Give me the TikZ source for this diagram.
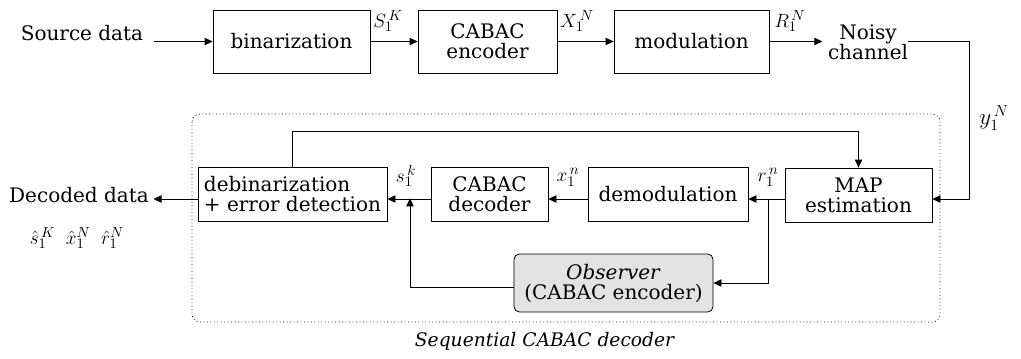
\documentclass[tikz,border=0pt]{standalone}
\usepackage{fontspec}
\setmainfont{DejaVu Serif}
\usepackage{tikz}
\usetikzlibrary{arrows.meta}

\begin{document}
\begin{tikzpicture}[x=0.75pt,y=0.75pt,yscale=-1,xscale=1,
  font=\fontsize{15}{15}\selectfont,
  blk/.style={draw, line width=0.6pt, inner sep=0pt, align=center},
  arr/.style={line width=0.6pt, -{Triangle[length=6pt,width=5.5pt]}},
  lnk/.style={line width=0.6pt}]
\useasboundingbox (0,0) rectangle (1021,358);

%Shape: Rounded Rectangle [dotted frame of the decoder]
\draw [dotted, line width=0.6pt, rounded corners=6pt] (192,114) rectangle (940,322);

%Shape: Rectangle [binarization]
\draw (291.5,41.5) node [blk, minimum width=117.75pt, minimum height=47.25pt] (bin) {binarization};
%Shape: Rectangle [CABAC encoder]
\draw (487.5,41.5) node [blk, minimum width=104.25pt, minimum height=47.25pt] (enc) {CABAC\\encoder};
%Shape: Rectangle [modulation]
\draw (691.5,41.5) node [blk, minimum width=116.25pt, minimum height=47.25pt] (mod) {modulation};
%Shape: Rectangle [debinarization]
\draw (292.5,194) node [blk, inner xsep=2pt, minimum width=141.75pt, minimum height=40.5pt, align=left] (debin) {debinarization\\+ error detection};
%Shape: Rectangle [CABAC decoder]
\draw (489.5,194) node [blk, minimum width=87.75pt, minimum height=40.5pt] (dec) {CABAC\\decoder};
%Shape: Rectangle [demodulation]
\draw (668,194) node [blk, minimum width=120pt, minimum height=40.5pt] (demod) {demodulation};
%Shape: Rectangle [MAP estimation]
\draw (858.5,195) node [blk, minimum width=110.25pt, minimum height=40.5pt] (map) {MAP\\estimation};
%Shape: Rounded Rectangle [observer]
\draw (613.5,283) node [blk, rounded corners=4pt, fill=black!11, minimum width=149.25pt, minimum height=43.5pt] (obs) {\textit{Observer}\\(CABAC encoder)};

% Text Node
\draw (82,33) node (src) {Source data};
% Text Node
\draw (868,42) node [align=center, inner sep=0pt] (noisy) {Noisy\\channel};
% Text Node
\draw (79,195) node (out) {Decoded data};
% Text Node
\draw (77,238) node (hats) {$\hat{s}_1^{\,K}\;\;\hat{x}_1^{N}\;\;\hat{r}_1^{N}$};
% Text Node
\draw (545,341) node [font=\fontsize{14}{15}\selectfont] (cap) {\textit{Sequential CABAC decoder}};

% helper points
\coordinate (row) at (0,199);
\coordinate (fb) at (0,131);
\coordinate (ch) at (969,0);
\coordinate (br) at (768,0);
\coordinate (ob) at (410,287);

%Straight Lines [top row]
\draw [arr] (src.east |- bin.west) ++(6,0) -- (bin.west);
\draw [arr] (bin) -- (enc);
\draw [arr] (enc) -- (mod);
\draw [arr] (mod.east) -- ([xshift=-4pt]noisy.west |- mod.east);
%Straight Lines [channel to MAP]
\draw [arr] (noisy.east |- mod.east) -- (ch |- mod.east) -- (ch |- row) -- (map.east |- row);
%Straight Lines [bottom row]
\draw [arr] (map.west |- row) -- (demod.east |- row);
\draw [arr] (demod.west |- row) -- (dec.east |- row);
\draw [arr] (dec.west |- row) -- (debin.east |- row);
\draw [arr] (debin.west |- row) -- (out.east |- row);
%Straight Lines [feedback to MAP]
\draw [arr] (debin.north) -- (debin.north |- fb) -| (map.north);
%Straight Lines [observer branch]
\draw [arr] (br |- row) -- (br |- obs.east) -- (obs.east);
\draw [arr] (obs.west |- ob) -- (ob) -- ([yshift=-0.5pt]ob |- row);

% Text Node
\draw (388,21) node (lSK) {$S_1^{\,K}$};
% Text Node
\draw (577,21) node (lXN) {$X_1^{\,N}$};
% Text Node
\draw (790,21) node (lRN) {$R_1^{\,N}$};
% Text Node
\draw (994,118) node [font=\fontsize{17}{18}\selectfont] (lyN) {$y_1^{\,N}$};
% Text Node
\draw (406,176) node (lsk) {$s_1^{\,k}$};
% Text Node
\draw (568,177) node (lxn) {$x_1^{\,n}$};
% Text Node
\draw (768,177) node (lrn) {$r_1^{\,n}$};

\end{tikzpicture}
\end{document}
